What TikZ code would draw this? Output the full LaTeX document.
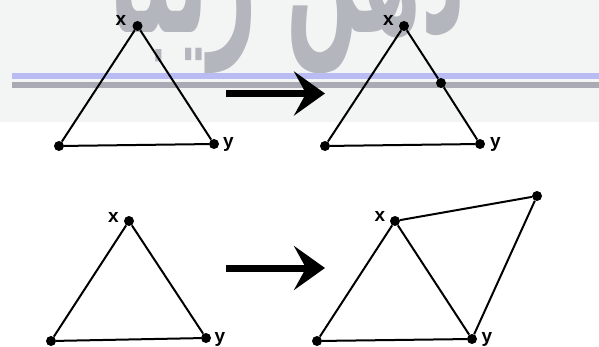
\documentclass[tikz,border=0pt]{standalone}
\usepackage{fontspec}
\setmainfont{Liberation Sans}
\newfontfamily\arabicfont[Script=Arabic]{DejaVu Sans}
\newfontfamily\markfont{Liberation Sans Bold}
\TeXXeTstate=1
\usetikzlibrary{arrows.meta}
\definecolor{bandbg}{HTML}{F3F5F5}
\definecolor{markgray}{HTML}{B4B6BE}
\definecolor{blueline}{HTML}{B9BCF2}
\definecolor{grayline}{HTML}{AAAAB4}

\begin{document}
\begin{tikzpicture}[x=1pt,y=-1pt,
  vtx/.style={circle,fill=black,inner sep=0pt,minimum size=10pt},
  edge/.style={line width=2pt},
  lbl/.style={font=\markfont\fontsize{19}{19}\selectfont,inner sep=0pt,anchor=base},
  bigarrow/.style={line width=7pt,-{Stealth[length=31pt,width=44pt,inset=12pt]}}
]
\useasboundingbox (0,0) rectangle (599,347);

% header band with watermark
\fill[bandbg] (0,0) rectangle (599,122);
\node[anchor=base,inner sep=0pt,text=markgray] (mark) at (287.5,33)
  {\scalebox{1}[2]{\resizebox{355pt}{!}{\arabicfont\bfseries\beginR ذهن زیبا\endR}}};
\fill[blueline] (12,73) rectangle (599,79);
\fill[grayline] (12,82) rectangle (599,88);

% top left triangle
\node[vtx] (a1) at (137.5,26) {};
\node[vtx] (b1) at (59,146) {};
\node[vtx] (c1) at (214,144) {};
\draw[edge] (a1) -- (b1) -- (c1) -- (a1);
\node[lbl] (ax1) at (121,26) {x};
\node[lbl] (cy1) at (228.5,148) {y};

% top right triangle with a subdivided edge
\node[vtx] (a2) at (404,26) {};
\node[vtx] (b2) at (325,146) {};
\node[vtx] (c2) at (480,144) {};
\node[vtx] (m2) at (441,83) {};
\draw[edge] (a2) -- (b2) -- (c2) -- (m2) -- (a2);
\node[lbl] (ax2) at (388.5,26) {x};
\node[lbl] (cy2) at (495.5,148) {y};

% bottom left triangle
\node[vtx] (a3) at (129,221) {};
\node[vtx] (b3) at (51,341) {};
\node[vtx] (c3) at (206,338) {};
\draw[edge] (a3) -- (b3) -- (c3) -- (a3);
\node[lbl] (ax3) at (113.5,222.5) {x};
\node[lbl] (cy3) at (220,342) {y};

% bottom right: triangle with an extra triangle on edge xy
\node[vtx] (a4) at (395,221) {};
\node[vtx] (b4) at (317,341) {};
\node[vtx] (c4) at (472,339) {};
\node[vtx] (d4) at (537,196) {};
\draw[edge] (a4) -- (b4) -- (c4) -- (a4);
\draw[edge] (a4) -- (d4) -- (c4);
\node[lbl] (ax4) at (380,222) {x};
\node[lbl] (cy4) at (487,342) {y};

% arrows
\coordinate (p1) at (226,93.5);
\coordinate (q1) at (325,93.5);
\draw[bigarrow] (p1) -- (q1);
\coordinate (p2) at (226,268);
\coordinate (q2) at (325,268);
\draw[bigarrow] (p2) -- (q2);
\end{tikzpicture}
\end{document}
